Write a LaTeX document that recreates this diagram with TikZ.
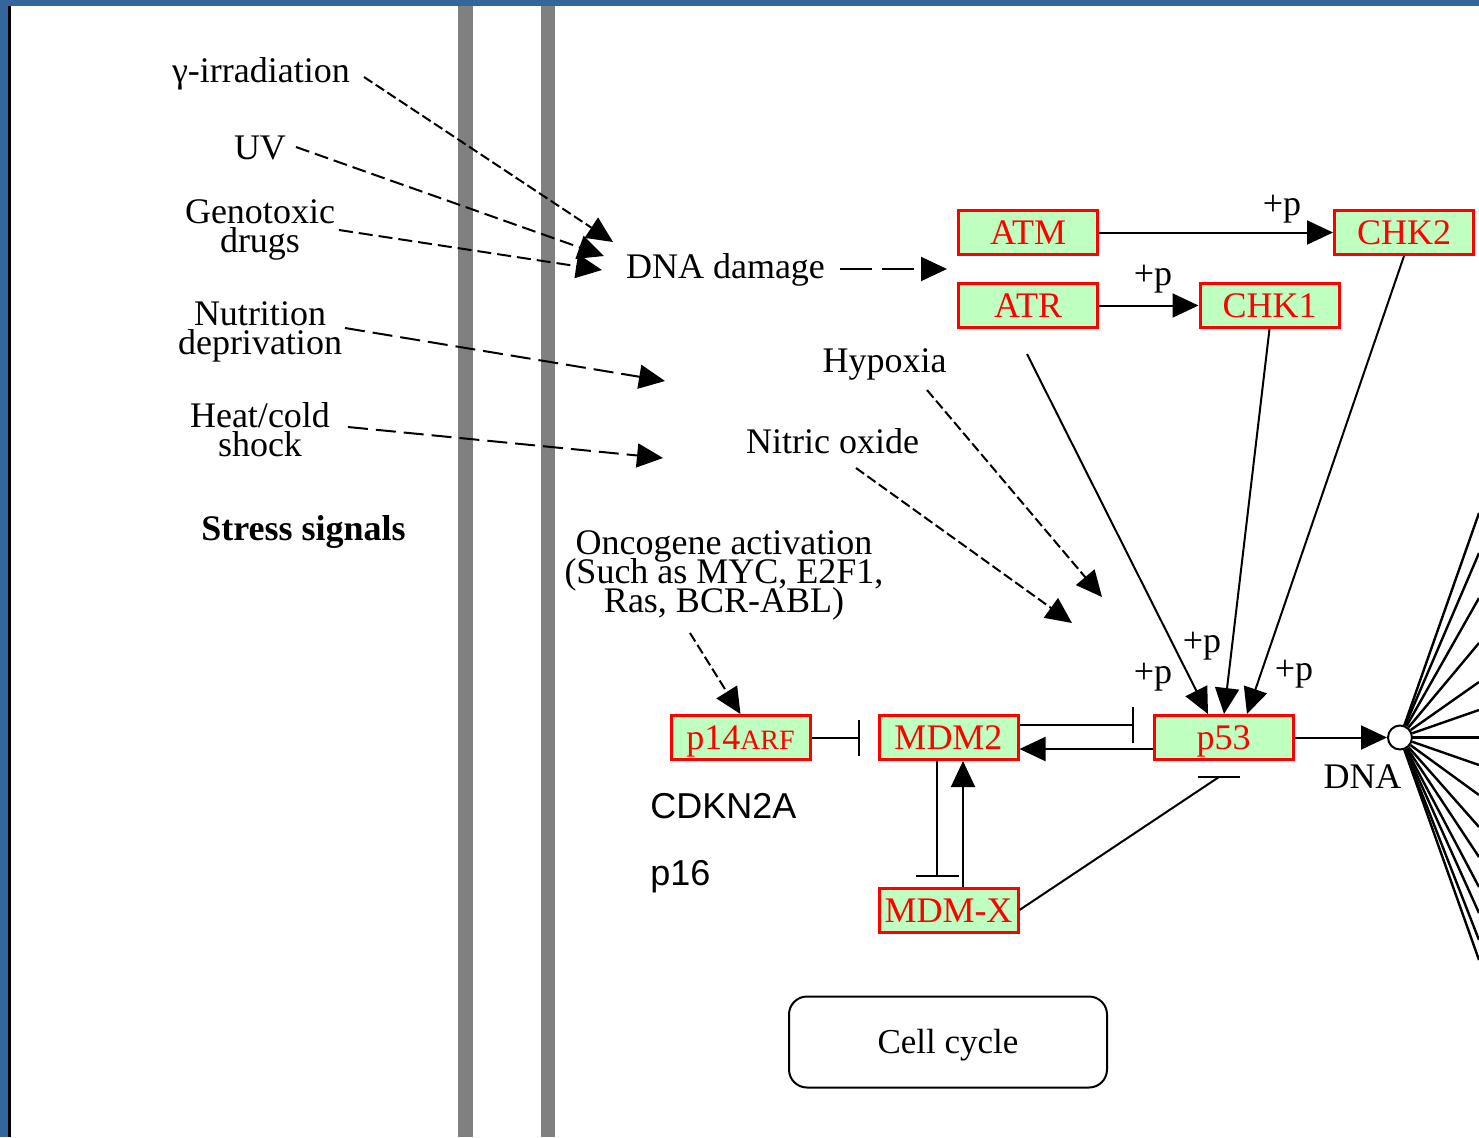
\documentclass[tikz,border=0pt]{standalone}
\usepackage{fontspec}
\setmainfont{Liberation Serif}
\newfontfamily\labelsans{Liberation Sans}
\usetikzlibrary{arrows.meta}
\definecolor{framebl}{RGB}{52,101,155}
\definecolor{memgray}{RGB}{128,128,128}
\definecolor{genefill}{RGB}{191,255,191}
% tight two- and three-line labels
\newcommand{\tightlines}{\fontsize{18}{14.5}\selectfont\lineskiplimit -30pt\relax}

\begin{document}
\begin{tikzpicture}[x=0.5pt,y=-0.5pt,
  lbl/.style={anchor=base, inner sep=0pt, font=\fontsize{18}{18}\selectfont},
  lbltwo/.style={anchor=base, inner sep=0pt, align=center, font=\tightlines},
  gene/.style={draw=red, fill=genefill, line width=1.5pt, minimum width=69.5pt,
    minimum height=22pt, inner sep=0pt, text=red, font=\fontsize{18}{18}\selectfont,
    text height=12pt, text depth=0pt},
  act/.style={-{Triangle[length=13pt,width=12pt]}, line width=1pt},
  inh/.style={-{Bar[width=18pt]}, line width=1pt},
  dsh/.style={act, dash pattern=on 7pt off 3pt},
  fanline/.style={line width=1.2pt}]
\useasboundingbox (0,0) rectangle (1479,1137);
\fill[white] (0,0) rectangle (1479,1137);

% window frame
\fill[framebl] (0,0) rectangle (8,1137);
\fill[framebl] (0,0) rectangle (1479,6);
\fill[black] (8,6) rectangle (11,1137);

% membrane
\fill[memgray] (458,6) rectangle (473,1137);
\fill[memgray] (541,6) rectangle (555,1137);

% stress signals (multi-line labels are placed by their last baseline)
\node[lbl] (gamma) at (261,82) {γ-irradiation};
\node[lbl] (uv) at (260,159) {UV};
\node[lbltwo] (geno) at (260,252) {Genotoxic\\drugs};
\node[lbltwo] (nut) at (260,354) {Nutrition\\deprivation};
\node[lbltwo] (heat) at (260,456) {Heat/cold\\shock};
\node[lbl, font=\fontsize{18}{18}\selectfont\bfseries] (stress) at (303.5,540) {Stress signals};

\node[lbl] (dnadam) at (725.5,278) {DNA damage};
\node[lbl] (hypoxia) at (884.5,372) {Hypoxia};
\node[lbl] (nitric) at (832.5,453) {Nitric oxide};
\node[lbltwo] (onc) at (724,612) {Oncogene activation\\(Such as MYC, E2F1,\\Ras, BCR-ABL)};

% gene products
\node[gene] (atm) at (1028,232.5) {ATM};
\node[gene] (atr) at (1028,305.5) {ATR};
\node[gene] (chk2) at (1404,232.5) {CHK2};
\node[gene] (chk1) at (1269.5,305.5) {CHK1};
\node[gene] (p14) at (740.5,737.5) {p14{\fontsize{14}{14}\selectfont ARF}};
\node[gene] (mdm2) at (948.5,737.5) {MDM2};
\node[gene] (mdmx) at (948.5,910) {MDM-X};
\node[gene] (p53) at (1223.5,737.5) {p53};

\node[draw, circle, line width=1pt, fill=white, minimum size=12pt, inner sep=0pt] (dna) at (1400,737.5) {};
\node[lbl] (dnalbl) at (1362.5,788) {DNA};

\node[lbl, anchor=base west, font=\fontsize{18}{18}\selectfont\labelsans] (cdkn) at (650,818) {CDKN2A};
\node[lbl, anchor=base west, font=\fontsize{18}{18}\selectfont\labelsans] (p16) at (650,885) {p16};

\node[draw, line width=1pt, rounded corners=9pt, minimum width=159pt, minimum height=45.5pt,
  inner sep=0pt, font=\fontsize{17.5}{18}\selectfont, text height=11.5pt, text depth=0pt]
  (cellcycle) at (948,1042) {Cell cycle};

% phosphorylation marks
\node[lbl] (p1) at (1282,215) {+p};
\node[lbl] (p2) at (1153,285) {+p};
\node[lbl] (p3) at (1202,652) {+p};
\node[lbl] (p4) at (1153,683) {+p};
\node[lbl] (p5) at (1294,680) {+p};

% free ends of the stress connectors
\coordinate (gS) at (364,77);    \coordinate (gE) at (613,242);
\coordinate (uS) at (296,147);   \coordinate (uE) at (604,256);
\coordinate (dS) at (339,230);   \coordinate (dE) at (602,270);
\coordinate (nS) at (345,328);   \coordinate (nE) at (665,381);
\coordinate (hS) at (348,427);   \coordinate (hE) at (663,458);
\coordinate (ddS) at (840,269);  \coordinate (ddE) at (947,269);
\coordinate (hyS) at (927,390);  \coordinate (hyE) at (1102,597);
\coordinate (noS) at (856,468);  \coordinate (noE) at (1072,623);
\coordinate (onS) at (690,633);

\draw[dsh, dash pattern=on 5pt off 2pt] (gS) -- (gE);
\draw[dsh] (uS) -- (uE);
\draw[dsh] (dS) -- (dE);
\draw[dsh, dash pattern=on 10pt off 4pt] (nS) -- (nE);
\draw[dsh, dash pattern=on 10pt off 4pt] (hS) -- (hE);
\draw[dsh, dash pattern=on 16pt off 5pt] (ddS) -- (ddE);
\draw[dsh, dash pattern=on 5pt off 2pt] (hyS) -- (hyE);
\draw[dsh, dash pattern=on 5pt off 2pt] (noS) -- (noE);
\draw[dsh, dash pattern=on 5pt off 2pt] (onS) -- (p14.north);

% kinase cascade
\draw[act] (atm.east) -- (chk2.west);
\draw[act] (atr.east) -- (chk1.west);

\coordinate (atrS) at (1027,354);
\coordinate (p53a) at (1208,714);
\coordinate (p53b) at (1224,714);
\coordinate (p53c) at (1247,714);
\draw[act] (atrS) -- (p53a);
\draw[act] (chk1.south) -- (p53b);
\draw[act] (chk2.south) -- (p53c);

% p14ARF / MDM2 / MDM-X / p53 loop
\coordinate (p14bar) at (860,737.5);
\draw[inh] (p14.east) -- (p14bar);

\coordinate (mdmbar) at (1134,725);
\coordinate (lowY) at (0,749);
\draw[inh] (mdm2.east |- mdmbar) -- (mdmbar);
\draw[act] (p53.west |- lowY) -- (mdm2.east |- lowY);

\coordinate (xbar) at (937,877);
\coordinate (xup) at (963,0);
\draw[inh, -{Bar[width=21.5pt]}] (mdm2.south -| xbar) -- (xbar);
\draw[act] (mdmx.north -| xup) -- (mdm2.south -| xup);

% MDM-X inhibits p53 (horizontal bar under p53)
\coordinate (p53bar) at (1219,777);
\draw[line width=1pt] (mdmx.east) -- (p53bar);
\draw[line width=1.2pt] (p53bar) ++(-21,0) -- ++(42,0);

% transcription targets
\draw[act] (p53.east) -- (dna.west);
\foreach \yy [count=\i] in {513,553,598,643,682,710,737.5,765,795,827,857,887,913,940,960}{
  \coordinate (fan\i) at (1479,\yy);
  \draw[fanline] (dna) -- (fan\i);
}
\end{tikzpicture}
\end{document}
